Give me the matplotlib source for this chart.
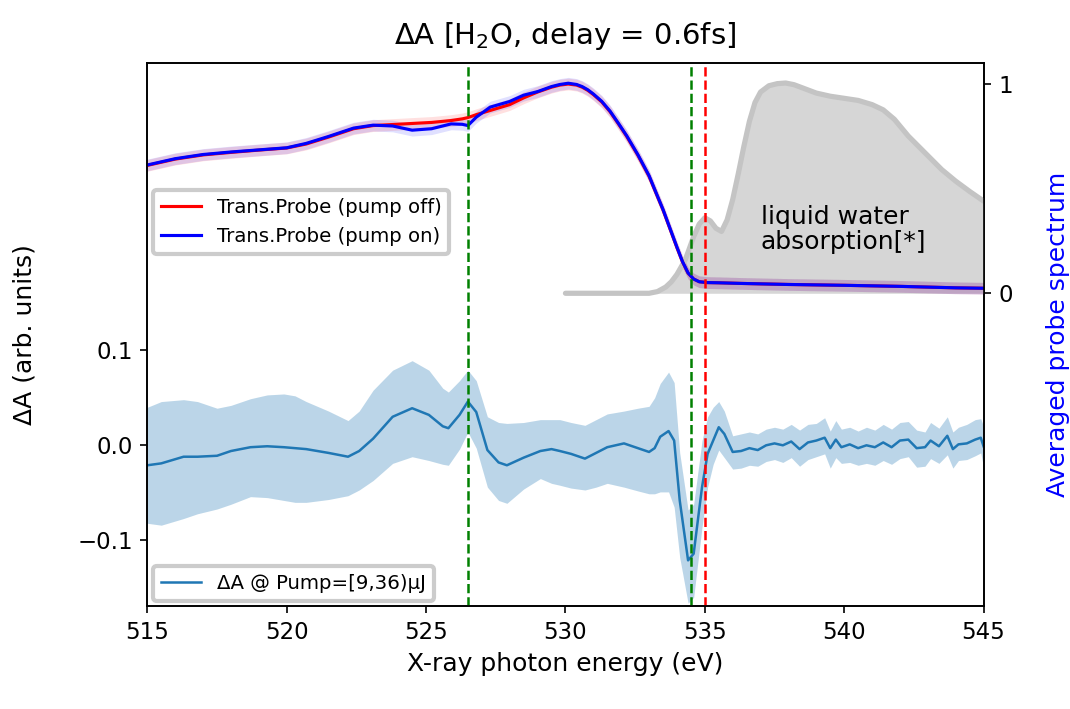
import matplotlib
matplotlib.use("Agg")
import matplotlib.pyplot as plt

# ---------------- data ----------------
probe_E = [515.0, 516.0, 517.0, 518.0, 519.0, 520.0, 520.7, 521.5, 522.4, 523.1,
           523.8, 524.5, 525.2, 525.9, 526.3, 526.5, 526.8, 527.3, 528.0, 528.5,
           529.0, 529.5, 529.8, 530.1, 530.4, 530.6, 530.8, 531.0, 531.3, 531.6,
           531.9, 532.2, 532.6, 533.0, 533.25, 533.5, 533.75, 534.0, 534.2, 534.4,
           534.6, 534.8, 535.1, 535.5, 536.3, 538.0, 540.0, 542.0, 544.0, 545.0]
probe_off = [0.610, 0.640, 0.660, 0.672, 0.683, 0.693, 0.712, 0.745, 0.785, 0.800,
             0.805, 0.810, 0.815, 0.824, 0.832, 0.838, 0.852, 0.872, 0.900, 0.932,
             0.960, 0.983, 0.993, 0.998, 0.993, 0.983, 0.968, 0.948, 0.913, 0.866,
             0.808, 0.748, 0.658, 0.558, 0.478, 0.398, 0.308, 0.218, 0.150, 0.096,
             0.068, 0.055, 0.051, 0.050, 0.047, 0.042, 0.038, 0.033, 0.026, 0.024]
probe_on = [0.612, 0.642, 0.662, 0.674, 0.684, 0.694, 0.715, 0.748, 0.788, 0.802,
            0.798, 0.778, 0.785, 0.808, 0.806, 0.800, 0.840, 0.888, 0.915, 0.945,
            0.962, 0.986, 0.996, 1.002, 0.996, 0.986, 0.971, 0.951, 0.916, 0.869,
            0.811, 0.751, 0.661, 0.561, 0.480, 0.400, 0.310, 0.220, 0.151, 0.097,
            0.068, 0.055, 0.051, 0.050, 0.047, 0.042, 0.038, 0.033, 0.026, 0.024]
probe_err = [0.028] * len(probe_E)

water_E = [530.0, 532.0, 533.0, 533.3, 533.6, 533.8, 534.0, 534.3, 534.6, 534.8,
           535.0, 535.2, 535.4, 535.6, 535.8, 536.0, 536.2, 536.4, 536.6, 536.8,
           537.0, 537.3, 537.6, 537.9, 538.2, 538.6, 539.0, 539.5, 540.0, 540.5,
           541.0, 541.4, 541.8, 542.3, 542.9, 543.5, 544.0, 544.5, 545.0]
water_abs = [0.0, 0.0, 0.0, 0.008, 0.03, 0.055, 0.09, 0.16, 0.27, 0.33,
             0.36, 0.345, 0.31, 0.295, 0.35, 0.447, 0.57, 0.70, 0.82, 0.91,
             0.96, 0.99, 1.0, 1.003, 0.995, 0.975, 0.955, 0.94, 0.93, 0.92,
             0.90, 0.875, 0.83, 0.75, 0.67, 0.59, 0.535, 0.486, 0.44]

dA_E = [515.0, 515.5, 516.3, 516.8, 517.5, 518.0, 518.7, 519.3, 519.9, 520.3,
        520.7, 521.5, 522.2, 522.6, 523.1, 523.8, 524.5, 525.1, 525.6, 525.8,
        526.2, 526.5, 526.8, 527.2, 527.6, 527.9, 528.5, 529.1, 529.5, 529.8,
        530.2, 530.7, 531.1, 531.5, 532.1, 532.6, 533.0, 533.2, 533.4, 533.7,
        533.9, 534.1, 534.4, 534.6, 534.9, 535.1, 535.3, 535.5, 535.7, 536.0,
        536.3, 536.6, 536.9, 537.2, 537.5, 537.8, 538.1, 538.4, 538.7, 539.0,
        539.3, 539.5, 539.7, 539.9, 540.2, 540.5, 540.8, 541.1, 541.4, 541.7,
        542.0, 542.3, 542.6, 542.9, 543.1, 543.4, 543.7, 543.9, 544.1, 544.4,
        544.7, 544.9, 545.0]
dA = [-0.021, -0.019, -0.012, -0.012, -0.011, -0.006, -0.002, -0.001, -0.002, -0.003,
      -0.004, -0.008, -0.012, -0.006, 0.007, 0.030, 0.039, 0.032, 0.020, 0.018,
      0.032, 0.046, 0.035, -0.005, -0.018, -0.021, -0.013, -0.006, -0.004, -0.006,
      -0.009, -0.014, -0.008, -0.002, 0.002, -0.003, -0.007, -0.003, 0.009, 0.015,
      0.005, -0.058, -0.121, -0.114, -0.044, -0.009, 0.005, 0.019, 0.012, -0.007,
      -0.006, -0.003, -0.005, 0.000, 0.002, 0.000, 0.004, -0.004, 0.003, 0.005,
      0.008, -0.003, 0.006, -0.002, 0.001, -0.003, 0.000, -0.002, 0.003, -0.002,
      0.005, 0.006, -0.003, -0.002, 0.005, -0.001, 0.010, -0.004, 0.001, 0.002,
      0.006, 0.008, -0.001]
dA_hi = [0.040, 0.046, 0.048, 0.046, 0.039, 0.042, 0.049, 0.053, 0.054, 0.052,
         0.046, 0.036, 0.026, 0.036, 0.058, 0.079, 0.089, 0.079, 0.060, 0.056,
         0.068, 0.079, 0.068, 0.030, 0.024, 0.023, 0.024, 0.027, 0.027, 0.027,
         0.024, 0.021, 0.027, 0.033, 0.036, 0.039, 0.041, 0.050, 0.065, 0.077,
         0.066, -0.008, -0.068, -0.062, 0.005, 0.030, 0.040, 0.046, 0.036, 0.010,
         0.012, 0.014, 0.012, 0.017, 0.019, 0.017, 0.022, 0.016, 0.022, 0.023,
         0.029, 0.015, 0.026, 0.017, 0.019, 0.015, 0.019, 0.016, 0.022, 0.017,
         0.024, 0.025, 0.016, 0.014, 0.024, 0.018, 0.030, 0.014, 0.019, 0.022,
         0.027, 0.028, 0.020]
dA_lo = [-0.082, -0.084, -0.077, -0.072, -0.067, -0.062, -0.054, -0.055, -0.058, -0.060,
         -0.060, -0.057, -0.053, -0.047, -0.037, -0.019, -0.012, -0.016, -0.020, -0.021,
         -0.004, 0.014, -0.003, -0.044, -0.058, -0.061, -0.046, -0.035, -0.040, -0.042,
         -0.045, -0.047, -0.044, -0.040, -0.044, -0.048, -0.051, -0.051, -0.049, -0.049,
         -0.065, -0.118, -0.166, -0.160, -0.086, -0.044, -0.020, -0.005, -0.013, -0.025,
         -0.024, -0.021, -0.022, -0.017, -0.015, -0.018, -0.013, -0.022, -0.015, -0.012,
         -0.009, -0.024, -0.013, -0.019, -0.018, -0.021, -0.019, -0.021, -0.016, -0.020,
         -0.014, -0.012, -0.023, -0.022, -0.014, -0.019, -0.010, -0.024, -0.016, -0.015,
         -0.011, -0.008, -0.023]

green_lines = [526.5, 534.5]
red_lines = [535.0]

# ---------------- plot ----------------
plt.rcParams['xtick.labelsize'] = 11
plt.rcParams['ytick.labelsize'] = 11

fig = plt.figure(figsize=(1070 / 150, 709 / 150), dpi=150)
ax = fig.add_axes([0.1377, 0.1446, 0.9192 - 0.1377, 0.9116 - 0.1446])
ax2 = ax.twinx()

# Delta A on main axis
ax.fill_between(dA_E, dA_lo, dA_hi, color='#1f77b4', alpha=0.3, linewidth=0)
ax.plot(dA_E, dA, color='#1f77b4', lw=1.2, label='ΔA @ Pump=[9,36)μJ')
ax.set_xlim(515, 545)
ax.set_ylim(-0.1695, 0.4024)
ax.set_yticks([-0.1, 0.0, 0.1])
ax.set_xticks([515, 520, 525, 530, 535, 540, 545])
ax.set_xlabel('X-ray photon energy (eV)', fontsize=12)
ax.set_ylabel('ΔA (arb. units)', fontsize=12)
ax.yaxis.set_label_coords(-0.133, 0.5)
leg1 = ax.legend(loc='lower left', fontsize=9.5, borderaxespad=0.3, fancybox=True,
                 framealpha=1.0, edgecolor='#cccccc')
leg1.get_frame().set_linewidth(2.0)

# Probe spectrum / water absorption on twin axis
ax2.fill_between(water_E, 0, water_abs, color='#d6d6d6', alpha=1.0, linewidth=0)
ax2.plot(water_E, water_abs, color='#c4c4c4', lw=2.5, solid_capstyle='round')
off_lo = [v - e for v, e in zip(probe_off, probe_err)]
off_hi = [v + e for v, e in zip(probe_off, probe_err)]
on_lo = [v - e for v, e in zip(probe_on, probe_err)]
on_hi = [v + e for v, e in zip(probe_on, probe_err)]
ax2.fill_between(probe_E, off_lo, off_hi, color='red', alpha=0.12, linewidth=0)
ax2.fill_between(probe_E, on_lo, on_hi, color='blue', alpha=0.12, linewidth=0)
ax2.plot(probe_E, probe_off, color='red', lw=1.5, label='Trans.Probe (pump off)')
ax2.plot(probe_E, probe_on, color='blue', lw=1.5, label='Trans.Probe (pump on)')
for x in green_lines:
    ax2.axvline(x, color='green', ls='--', lw=1.2)
for x in red_lines:
    ax2.axvline(x, color='red', ls='--', lw=1.2)
ax2.text(537.0, 0.305, 'liquid water\nabsorption[*]', fontsize=12, va='center', ha='left',
         linespacing=1.05)
ax2.set_ylim(-1.494, 1.100)
ax2.set_yticks([0, 1])
ax2.set_ylabel('Averaged probe spectrum', color='blue', fontsize=12)
ax2.yaxis.set_label_coords(1.075, 0.5)
leg2 = ax2.legend(loc='upper left', bbox_to_anchor=(0.0, 0.776), fontsize=9.5,
                  borderaxespad=0.3, framealpha=1.0, edgecolor='#cccccc')
leg2.get_frame().set_linewidth(2.0)

ax.set_title(r'$\Delta$A [H$_2$O, delay = 0.6fs]', fontsize=14, pad=9)

fig.savefig('out.png', dpi=150)
